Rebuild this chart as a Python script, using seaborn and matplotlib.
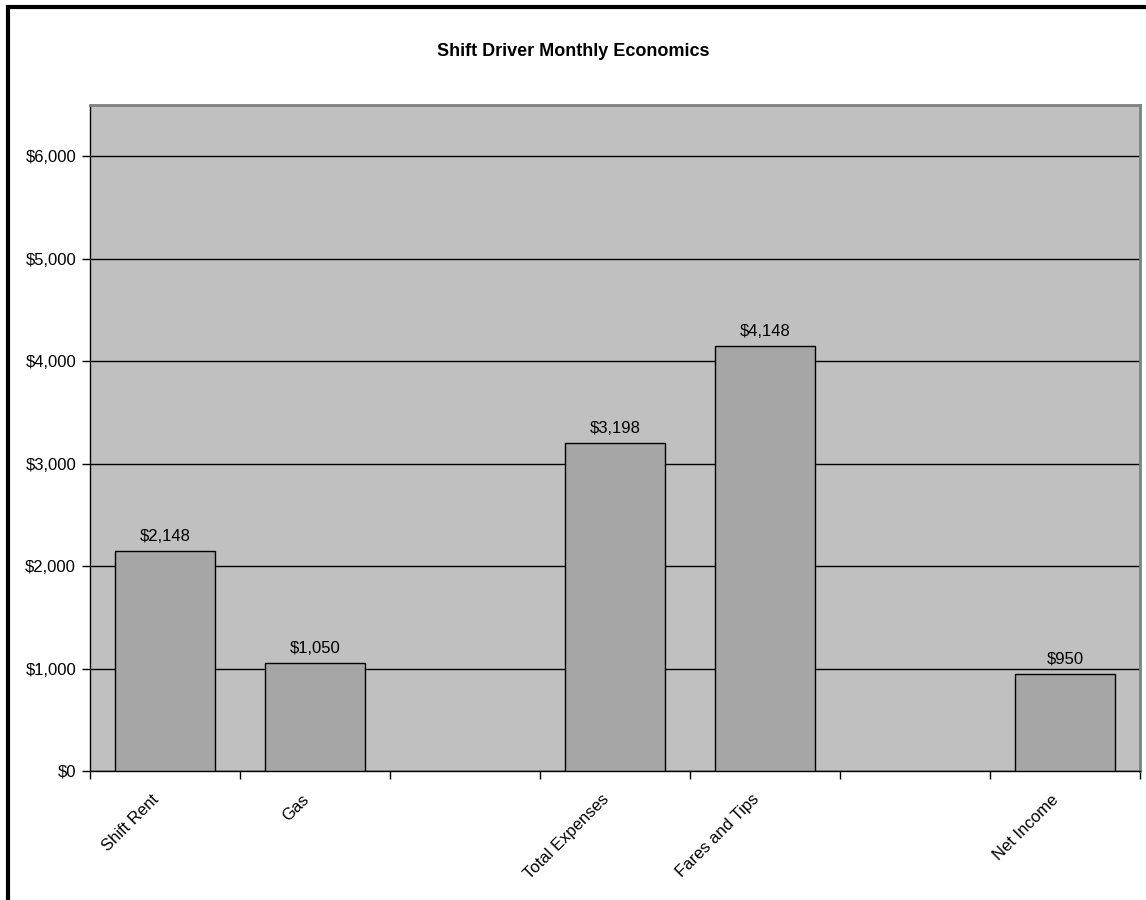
import matplotlib
matplotlib.use("Agg")
import matplotlib.pyplot as plt
import matplotlib.patches as mpatches
from matplotlib.ticker import FuncFormatter, MultipleLocator
from matplotlib.transforms import ScaledTranslation
import seaborn as sns
import pandas as pd

# Monthly figures for a shift driver
categories = ["Shift Rent", "Gas", "Total Expenses", "Fares and Tips", "Net Income"]
amounts = [2148, 1050, 3198, 4148, 950]
# Axis order, with empty slots separating the groups
slot_order = ["Shift Rent", "Gas", " ", "Total Expenses", "Fares and Tips", "  ", "Net Income"]
title = "Shift Driver Monthly Economics"

sns.set_theme(style="white")
plt.rcParams["font.family"] = ["Liberation Sans", "DejaVu Sans"]
plt.rcParams["text.color"] = "black"
plt.rcParams["xtick.color"] = "black"
plt.rcParams["ytick.color"] = "black"

df = pd.DataFrame({"category": categories, "amount": amounts})

fig = plt.figure(figsize=(11.46, 9.0), dpi=100)
ax = fig.add_axes([90 / 1146, 1 - 771 / 900, (1140 - 90) / 1146, (771 - 105) / 900])
ax.set_facecolor("#C0C0C0")

sns.barplot(data=df, x="category", y="amount", order=slot_order, color="#A6A6A6",
            saturation=1, width=2 / 3, edgecolor="black", linewidth=1, ax=ax, zorder=3)

ax.set_ylim(0, 6500)
ax.set_xlim(-0.5, len(slot_order) - 0.5)
ax.yaxis.set_major_locator(MultipleLocator(1000))
ax.yaxis.set_major_formatter(FuncFormatter(lambda v, p: f"${v:,.0f}"))
ax.grid(axis="y", color="black", linewidth=1, zorder=1)
ax.grid(axis="x", visible=False)
ax.set_axisbelow(True)
ax.set_xlabel("")
ax.set_ylabel("")

for side in ["left", "bottom"]:
    ax.spines[side].set_color("black")
    ax.spines[side].set_linewidth(1)
for side in ["top", "right"]:
    ax.spines[side].set_color("#808080")
    ax.spines[side].set_linewidth(2)

# category labels at slot centres, tick marks on slot boundaries
ax.set_xticks(range(len(slot_order)))
ax.set_xticklabels(slot_order, rotation=45, ha="right", va="top", rotation_mode="anchor",
                   fontsize=12)
ax.tick_params(axis="x", which="major", length=0, pad=15)
shift = ScaledTranslation(-14 / 100, 0, fig.dpi_scale_trans)
for lbl in ax.get_xticklabels():
    lbl.set_transform(lbl.get_transform() + shift)
ax.set_xticks([i + 0.5 for i in range(-1, len(slot_order))], minor=True)
ax.tick_params(axis="x", which="minor", length=6, width=1, color="black", direction="out",
               bottom=True)
ax.tick_params(axis="y", length=6, width=1, color="black", direction="out", left=True,
               labelsize=12, pad=4)

for c in ax.containers:
    ax.bar_label(c, labels=[f"${v:,.0f}" for v in amounts], padding=5, fontsize=12)

fig.text(0.5, 1 - 51 / 900, title, ha="center", va="center", fontsize=13, fontweight="bold")

# chart frame
fig.patches.append(mpatches.Rectangle((8 / 1146, -0.1), 1.2, 1 - 7.5 / 900 + 0.1,
                                      transform=fig.transFigure, fill=False,
                                      edgecolor="black", linewidth=3))

fig.savefig("out.png", dpi=100, facecolor="white")
